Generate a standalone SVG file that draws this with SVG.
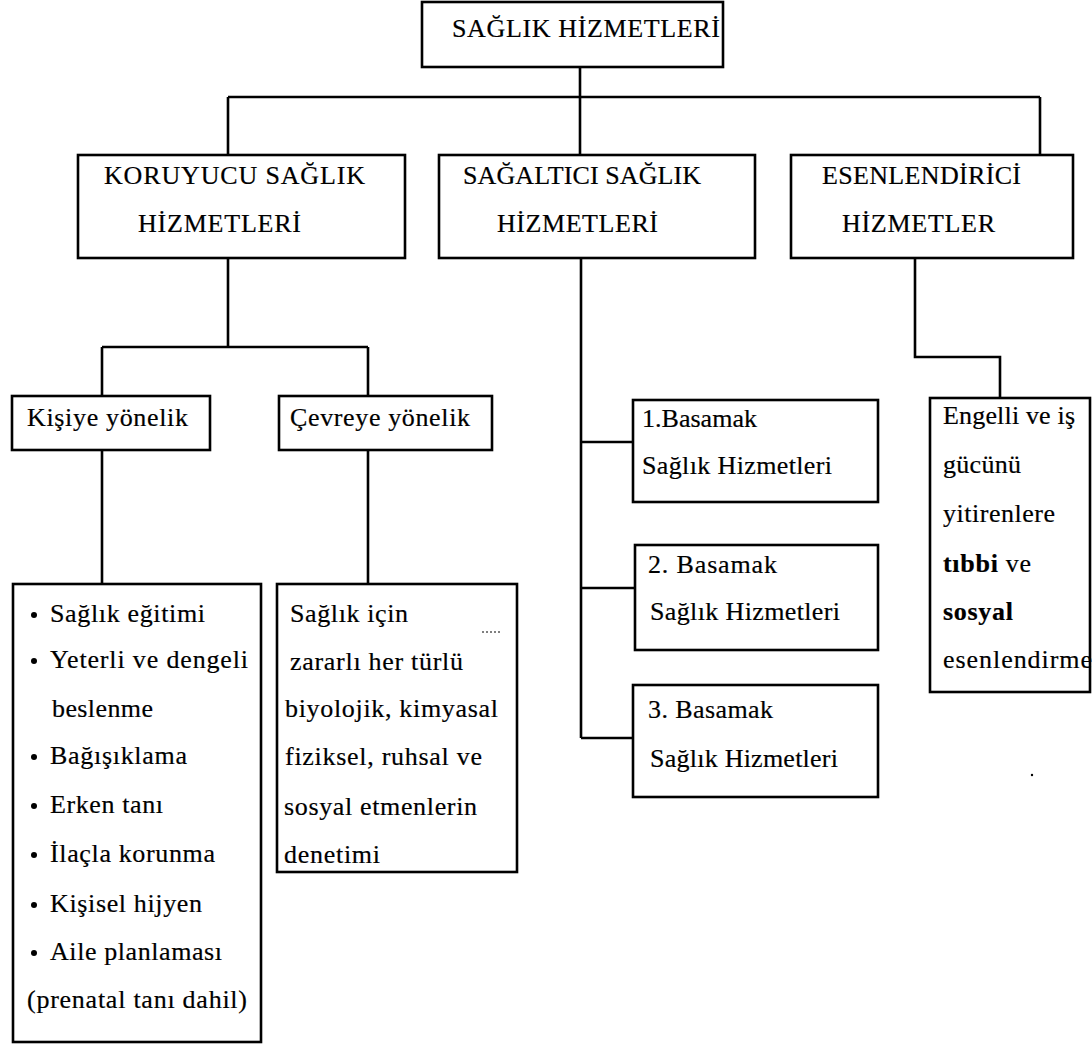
<svg xmlns="http://www.w3.org/2000/svg" width="1092" height="1046" viewBox="0 0 1092 1046">
<style>
.box{fill:#fff;stroke:#000;stroke-width:2.6}
.ln{fill:none;stroke:#000;stroke-width:2.6}
text{font-family:"Liberation Serif","Times New Roman",serif;font-size:26px;fill:#000;stroke:#000;stroke-width:0.2}
.b{font-weight:bold}
</style>
<rect width="1092" height="1046" fill="#fff"/>
<g id="connectors">
<path class="ln" d="M580 67V97M228 97H1040M228 97V155M580 97V155M1040 97V155"/>
<path class="ln" d="M228 258V347M102 347H368M102 347V396M368 347V396"/>
<path class="ln" d="M102 450V584M368 450V584"/>
<path class="ln" d="M581 258V738M581 442H633M581 588H635M581 738H633"/>
<path class="ln" d="M915 258V357H1000V398"/>
</g>
<g id="n-saglik">
<rect class="box" x="422" y="2" width="301" height="65"/>
<text x="452" y="37" textLength="268" lengthAdjust="spacing">SAĞLIK HİZMETLERİ</text>
</g>
<g id="n-koruyucu">
<rect class="box" x="78" y="155" width="327" height="103"/>
<text x="104" y="184" textLength="261" lengthAdjust="spacing">KORUYUCU SAĞLIK</text>
<text x="138" y="232" textLength="163" lengthAdjust="spacing">HİZMETLERİ</text>
</g>
<g id="n-sagaltici">
<rect class="box" x="439" y="155" width="316" height="103"/>
<text x="463" y="184" textLength="238" lengthAdjust="spacing">SAĞALTICI SAĞLIK</text>
<text x="497" y="232" textLength="161" lengthAdjust="spacing">HİZMETLERİ</text>
</g>
<g id="n-esenlendirici">
<rect class="box" x="791" y="155" width="282" height="103"/>
<text x="822" y="184" textLength="199" lengthAdjust="spacing">ESENLENDİRİCİ</text>
<text x="842" y="232" textLength="153" lengthAdjust="spacing">HİZMETLER</text>
</g>
<g id="n-kisiye">
<rect class="box" x="12" y="396" width="198" height="54"/>
<text x="27" y="426" textLength="161" lengthAdjust="spacing">Kişiye yönelik</text>
</g>
<g id="n-cevreye">
<rect class="box" x="279" y="396" width="213" height="54"/>
<text x="290" y="426" textLength="180" lengthAdjust="spacing">Çevreye yönelik</text>
</g>
<g id="n-kisiye-list">
<rect class="box" x="13" y="584" width="248" height="458"/>
<g fill="#000">
<circle cx="34" cy="615" r="3"/><circle cx="34" cy="661" r="3"/><circle cx="34" cy="757" r="3"/><circle cx="34" cy="806" r="3"/><circle cx="34" cy="855" r="3"/><circle cx="34" cy="905" r="3"/><circle cx="34" cy="953" r="3"/>
</g>
<text x="50" y="622" textLength="155" lengthAdjust="spacing">Sağlık eğitimi</text>
<text x="50" y="668" textLength="198" lengthAdjust="spacing">Yeterli ve dengeli</text>
<text x="52" y="717" textLength="101" lengthAdjust="spacing">beslenme</text>
<text x="50" y="764" textLength="137" lengthAdjust="spacing">Bağışıklama</text>
<text x="50" y="813" textLength="113" lengthAdjust="spacing">Erken tanı</text>
<text x="50" y="862" textLength="165" lengthAdjust="spacing">İlaçla korunma</text>
<text x="50" y="912" textLength="152" lengthAdjust="spacing">Kişisel hijyen</text>
<text x="50" y="960" textLength="172" lengthAdjust="spacing">Aile planlaması</text>
<text x="27" y="1008" textLength="220" lengthAdjust="spacing">(prenatal tanı dahil)</text>
</g>
<g id="n-cevre-list">
<rect class="box" x="277" y="584" width="240" height="288"/>
<text x="290" y="622" textLength="118" lengthAdjust="spacing">Sağlık için</text>
<text x="290" y="670" textLength="173" lengthAdjust="spacing">zararlı her türlü</text>
<text x="285" y="717" textLength="213" lengthAdjust="spacing">biyolojik, kimyasal</text>
<text x="285" y="765" textLength="197" lengthAdjust="spacing">fiziksel, ruhsal ve</text>
<text x="284" y="815" textLength="193" lengthAdjust="spacing">sosyal etmenlerin</text>
<text x="284" y="863" textLength="96" lengthAdjust="spacing">denetimi</text>
<path d="M482 632H502" stroke="#000" stroke-width="1" stroke-dasharray="2 2"/>
</g>
<g id="n-basamak1">
<rect class="box" x="633" y="400" width="245" height="102"/>
<text x="642" y="427" textLength="115" lengthAdjust="spacing">1.Basamak</text>
<text x="642" y="474" textLength="190" lengthAdjust="spacing">Sağlık Hizmetleri</text>
</g>
<g id="n-basamak2">
<rect class="box" x="635" y="545" width="243" height="105"/>
<text x="648" y="573" textLength="129" lengthAdjust="spacing">2. Basamak</text>
<text x="650" y="620" textLength="190" lengthAdjust="spacing">Sağlık Hizmetleri</text>
</g>
<g id="n-basamak3">
<rect class="box" x="633" y="685" width="245" height="112"/>
<text x="648" y="718" textLength="125" lengthAdjust="spacing">3. Basamak</text>
<text x="650" y="767" textLength="188" lengthAdjust="spacing">Sağlık Hizmetleri</text>
</g>
<g id="n-engelli">
<rect class="box" x="930" y="398" width="160" height="294"/>
<text x="943" y="424" textLength="132" lengthAdjust="spacing">Engelli ve iş</text>
<text x="943" y="473" textLength="78" lengthAdjust="spacing">gücünü</text>
<text x="943" y="522" textLength="112" lengthAdjust="spacing">yitirenlere</text>
<text x="943" y="572" textLength="88" lengthAdjust="spacing"><tspan class="b">tıbbi</tspan> ve</text>
<text x="943" y="620" class="b" textLength="70" lengthAdjust="spacing">sosyal</text>
<text x="943" y="668" textLength="149" lengthAdjust="spacing">esenlendirme</text>
</g>
<circle cx="1032" cy="775" r="1.2" fill="#000"/>
</svg>
